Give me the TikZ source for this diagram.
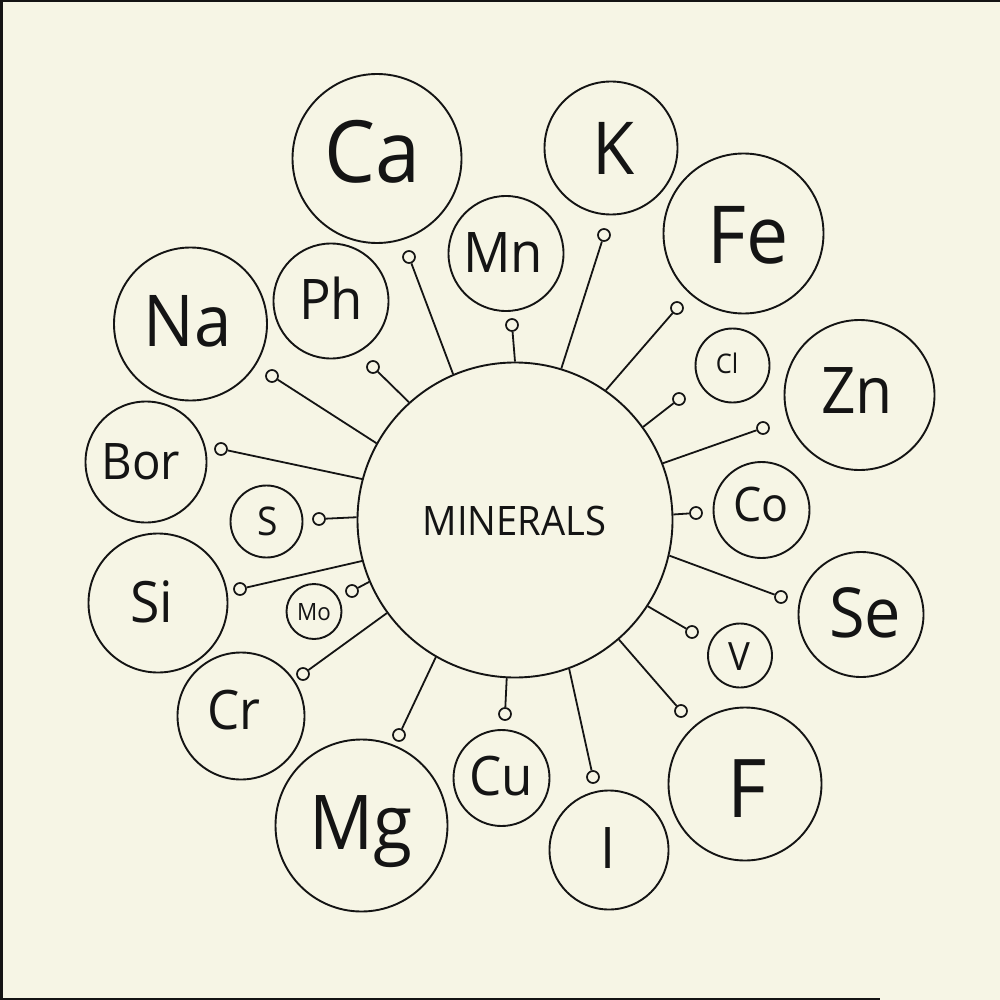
\documentclass[tikz,border=0pt]{standalone}
\usepackage{fontspec}
\setmainfont{Open Sans}[FakeStretch=0.94]
\definecolor{bg}{RGB}{246,245,229}
\definecolor{ink}{RGB}{20,20,20}
\begin{document}
\begin{tikzpicture}[x=1pt,y=-1pt,
  elem/.style={circle, draw=ink, line width=1.9pt, inner sep=0pt, fill=bg, minimum size=#1},
  dot/.style={circle, draw=ink, line width=1.7pt, inner sep=0pt, fill=bg, minimum size=12pt},
  lbl/.style={anchor=base, inner sep=0pt, text=ink, font=\fontsize{#1}{#1}\selectfont},
  spoke/.style={draw=ink, line width=1.8pt}]
\useasboundingbox (0,0) rectangle (1000,1000);
\fill[bg] (0,0) rectangle (1000,1000);
\fill[ink] (0,0) rectangle (3,1000);
\fill[ink] (0,0) rectangle (1000,2);
\fill[ink] (0,997.6) rectangle (880,1000);

% central circle
\node[elem=315pt] (M) at (515,520) {};
\node[lbl=40.6pt] (tM) at (514.5,535) {MINERALS};

% element circles
\node[elem=169pt] (ca) at (377,158.5) {};
\node[elem=133pt] (k) at (611,148) {};
\node[elem=160pt] (fe) at (743.5,233.5) {};
\node[elem=115pt] (mn) at (506,253.5) {};
\node[elem=115pt] (ph) at (331,301) {};
\node[elem=153pt] (na) at (190.5,324) {};
\node[elem=74pt] (cl) at (732.5,365.5) {};
\node[elem=150pt] (zn) at (859.5,395) {};
\node[elem=121pt] (bor) at (146,462) {};
\node[elem=72pt] (s) at (266.5,521.5) {};
\node[elem=96pt] (co) at (761.5,510) {};
\node[elem=139pt] (si) at (158,603) {};
\node[elem=55pt] (mo) at (314,611.5) {};
\node[elem=125pt] (se) at (861,614.5) {};
\node[elem=64pt] (v) at (740,655.5) {};
\node[elem=153pt] (f) at (745,784) {};
\node[elem=127pt] (cr) at (241,716) {};
\node[elem=172pt] (mg) at (361.5,825.5) {};
\node[elem=96pt] (cu) at (501.5,778) {};
\node[elem=119pt] (i) at (609,850) {};

% element labels
\node[lbl=86pt] (tca) at (372,183) {Ca};
\node[lbl=73pt] (tk) at (614,175) {K};
\node[lbl=80pt] (tfe) at (748,263) {Fe};
\node[lbl=56pt] (tmn) at (503,272) {Mn};
\node[lbl=56pt] (tph) at (331,319) {Ph};
\node[lbl=71.5pt] (tna) at (188,346) {Na};
\node[lbl=27pt] (tcl) at (727,373) {Cl};
\node[lbl=64.4pt] (tzn) at (857,413) {Zn};
\node[lbl=50.4pt] (tbor) at (141,479) {Bor};
\node[lbl=39.5pt] (ts) at (268,535.5) {S};
\node[lbl=47.6pt] (tco) at (761,521) {Co};
\node[lbl=57pt] (tsi) at (152,622) {Si};
\node[lbl=23.8pt] (tmo) at (314,620) {Mo};
\node[lbl=69pt] (tse) at (865,637) {Se};
\node[lbl=39pt] (tv) at (739,670) {V};
\node[lbl=81pt] (tf) at (747,817) {F};
\node[lbl=54.4pt] (tcr) at (234,729) {Cr};
\node[lbl=75.6pt] (tmg) at (361,849) {Mg};
\node[lbl=54.4pt] (tcu) at (501,795) {Cu};
\node[lbl=57.4pt] (ti) at (608,868) {I};

% spoke end dots
\node[dot] (dca) at (409,257) {};
\node[dot] (dmn) at (512,325) {};
\node[dot] (dk) at (604,235) {};
\node[dot] (dfe) at (677,308) {};
\node[dot] (dcl) at (679,399) {};
\node[dot] (dzn) at (763,428) {};
\node[dot] (dco) at (696,513) {};
\node[dot] (dse) at (781,597) {};
\node[dot] (dv) at (692,632) {};
\node[dot] (df) at (681,711) {};
\node[dot] (di) at (593,777) {};
\node[dot] (dcu) at (505,714) {};
\node[dot] (dmg) at (399,735) {};
\node[dot] (dcr) at (303,674) {};
\node[dot] (dmo) at (352,591) {};
\node[dot] (dsi) at (240,589) {};
\node[dot] (ds) at (319,519) {};
\node[dot] (dbor) at (221,449) {};
\node[dot] (dna) at (272,376) {};
\node[dot] (dph) at (373,367) {};

% spokes
\draw[spoke] (M.113.2) -- (dca);
\draw[spoke] (M.90.7) -- (dmn);
\draw[spoke] (M.73.5) -- (dk);
\draw[spoke] (M.55.9) -- (dfe);
\draw[spoke] (M.36.2) -- (dcl);
\draw[spoke] (M.21.1) -- (dzn);
\draw[spoke] (M.2.2) -- (dco);
\draw[spoke] (M.-13.9) -- (dse);
\draw[spoke] (M.-33.2) -- (dv);
\draw[spoke] (M.-49.4) -- (df);
\draw[spoke] (M.-70.9) -- (di);
\draw[spoke] (M.-93.3) -- (dcu);
\draw[spoke] (M.240.9) -- (dmg);
\draw[spoke] (M.216.8) -- (dcr);
\draw[spoke] (M.203.0) -- (dmo);
\draw[spoke] (M.195.4) -- (dsi);
\draw[spoke] (M.179.6) -- (ds);
\draw[spoke] (M.165.0) -- (dbor);
\draw[spoke] (M.151.5) -- (dna);
\draw[spoke] (M.132.7) -- (dph);
\end{tikzpicture}
\end{document}
